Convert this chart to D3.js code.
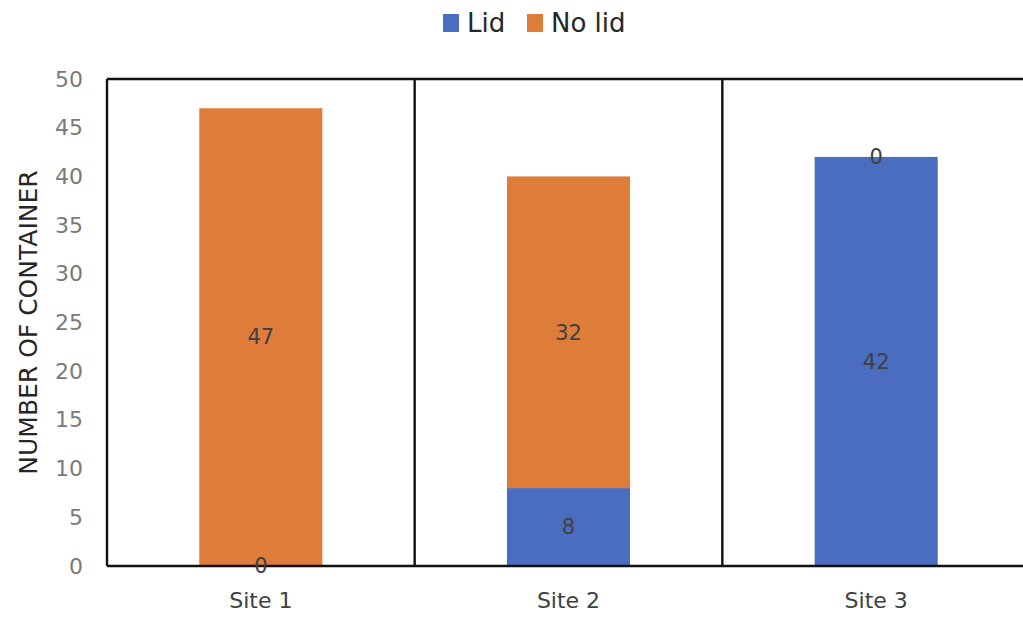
<!DOCTYPE html>
<html><head><meta charset="utf-8">
<script src="https://cdn.jsdelivr.net/npm/d3@7"></script>
<style>body{margin:0;background:#fff;}svg{display:block;font-family:"DejaVu Sans",sans-serif;}</style>
</head><body><svg id="c" width="1023" height="617"></svg>
<script>
const categories = ["Site 1", "Site 2", "Site 3"];
const lidValues = [0, 8, 42];
const noLidValues = [47, 32, 0];
const seriesNames = ["Lid", "No lid"];
const yTicks = [0, 5, 10, 15, 20, 25, 30, 35, 40, 45, 50];
const yTitle = "NUMBER OF CONTAINER";

const colors = ["#4A6DBF", "#DE7C3A"];
const FONT = "'DejaVu Sans',sans-serif";
const svg = d3.select("#c");
const m = {left: 107, top: 79, right: 1030, bottom: 566};

const x = d3.scaleBand().domain(categories).range([m.left, m.right]).paddingInner(0).paddingOuter(0);
const y = d3.scaleLinear().domain([0, 50]).range([m.bottom, m.top]);
const barW = x.bandwidth() * 0.4;

const data = categories.map((c, i) => ({cat: c, Lid: lidValues[i], "No lid": noLidValues[i]}));
const stacked = d3.stack().keys(seriesNames)(data);

// bars
stacked.forEach((s, si) => {
  svg.append("g").selectAll("rect").data(s).join("rect")
    .attr("x", d => x(d.data.cat) + x.bandwidth()/2 - barW/2)
    .attr("width", barW)
    .attr("y", d => y(d[1]))
    .attr("height", d => y(d[0]) - y(d[1]))
    .attr("fill", colors[si]);
});

// frame: top line, vertical separators, bottom axis
const g = svg.append("g").attr("stroke", "#111").attr("stroke-width", 2.4);
g.append("line").attr("x1", m.left).attr("x2", m.right).attr("y1", y(50)).attr("y2", y(50));
categories.forEach(c => {
  g.append("line").attr("x1", x(c)).attr("x2", x(c)).attr("y1", y(50)).attr("y2", y(0));
});
g.append("line").attr("x1", m.left).attr("x2", m.right).attr("y1", y(0)).attr("y2", y(0));

// y tick labels
const yAxis = d3.axisLeft(y).tickValues(yTicks).tickSize(0).tickPadding(24);
const ya = svg.append("g").attr("transform", `translate(${m.left},0)`).call(yAxis);
ya.select(".domain").remove();
ya.selectAll("text").attr("fill", "#7a7a7a").attr("font-size", 22).attr("font-family", FONT);

// x labels
const xAxis = d3.axisBottom(x).tickSize(0).tickPadding(0);
const xa = svg.append("g").attr("transform", `translate(0,${m.bottom})`).call(xAxis);
xa.select(".domain").remove();
xa.selectAll("text").attr("y", 34).attr("dy", "0.35em")
  .attr("fill", "#404040").attr("font-size", 22).attr("font-family", FONT);

// y title
svg.append("text").attr("transform", `translate(37,${(m.top + m.bottom)/2}) rotate(-90)`)
  .attr("text-anchor", "middle").attr("font-size", 25).attr("fill", "#262626")
  .text(yTitle);

// data labels
stacked.forEach((s, si) => {
  svg.append("g").selectAll("text").data(s).join("text")
    .attr("x", d => x(d.data.cat) + x.bandwidth()/2)
    .attr("y", d => (y(d[0]) + y(d[1]))/2)
    .attr("dy", "0.35em")
    .attr("text-anchor", "middle").attr("font-size", 21).attr("fill", "#404040")
    .text(d => d[1] - d[0]);
});

// legend
const leg = svg.append("g").attr("transform", "translate(443,23)");
const legItems = [{n: seriesNames[0], x: 0}, {n: seriesNames[1], x: 84}];
legItems.forEach((it, i) => {
  leg.append("rect").attr("x", it.x).attr("y", -9).attr("width", 16).attr("height", 18).attr("fill", colors[i]);
  leg.append("text").attr("x", it.x + 24).attr("y", 0).attr("dy", "0.35em").attr("font-size", 26).attr("fill", "#262626").text(it.n);
});
</script></body></html>
